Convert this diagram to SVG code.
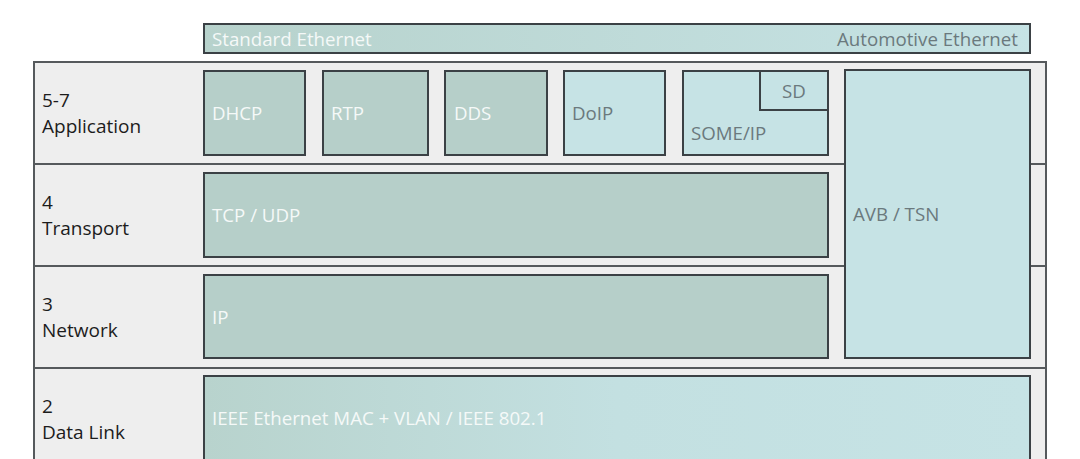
<svg xmlns="http://www.w3.org/2000/svg" width="1080" height="459" viewBox="0 0 1080 459">
<defs>
<linearGradient id="gBanner" x1="0" y1="0" x2="1" y2="0">
<stop offset="0" stop-color="#b7d2cc"/>
<stop offset="1" stop-color="#c6e3e5"/>
</linearGradient>
<linearGradient id="gLink" x1="0" y1="0" x2="1" y2="0">
<stop offset="0" stop-color="#b8d3cd"/>
<stop offset="0.5" stop-color="#c3e0e1"/>
<stop offset="1" stop-color="#c6e3e5"/>
</linearGradient>
</defs>
<style>
text{font-family:"Open Sans","Noto Sans","Liberation Sans",sans-serif;font-size:18.7px}
.box{stroke:#3b4145;stroke-width:2}
.dark{fill:#b6cfc9}
.light{fill:#c6e3e5}
.wt{fill:#f5f9f8}
.gt{fill:#6b797d}
.lbl{fill:#1c1c1c;font-size:19px}
.div{stroke:#55595c;stroke-width:2}
</style>
<rect width="1080" height="459" fill="#ffffff"/>
<g id="frame">
<rect x="34" y="62" width="1012" height="410" fill="#eeeeee" stroke="#55595c" stroke-width="2"/>
</g>
<g id="dividers">
<line class="div" x1="34" y1="164" x2="1046" y2="164"/>
<line class="div" x1="34" y1="266" x2="1046" y2="266"/>
<line class="div" x1="34" y1="368" x2="1046" y2="368"/>
</g>
<g id="banner">
<rect class="box" x="204" y="24" width="826" height="29" fill="url(#gBanner)"/>
<text class="wt" x="212" y="46">Standard Ethernet</text>
<text class="gt" x="1018" y="46" text-anchor="end">Automotive Ethernet</text>
</g>
<g id="layer-app">
<text class="lbl" x="42" y="107">5-7</text>
<text class="lbl" x="42" y="133">Application</text>
</g>
<g id="layer-transport">
<text class="lbl" x="42" y="209">4</text>
<text class="lbl" x="42" y="235">Transport</text>
</g>
<g id="layer-network">
<text class="lbl" x="42" y="311">3</text>
<text class="lbl" x="42" y="337">Network</text>
</g>
<g id="layer-datalink">
<text class="lbl" x="42" y="413">2</text>
<text class="lbl" x="42" y="439">Data Link</text>
</g>
<g id="dhcp">
<rect class="box dark" x="204" y="71" width="101" height="84"/>
<text class="wt" x="212" y="120">DHCP</text>
</g>
<g id="rtp">
<rect class="box dark" x="323" y="71" width="105" height="84"/>
<text class="wt" x="331" y="120">RTP</text>
</g>
<g id="dds">
<rect class="box dark" x="445" y="71" width="102" height="84"/>
<text class="wt" x="454" y="120">DDS</text>
</g>
<g id="doip">
<rect class="box light" x="564" y="71" width="101" height="84"/>
<text class="gt" x="572" y="120">DoIP</text>
</g>
<g id="someip">
<rect class="box light" x="683" y="71" width="145" height="84"/>
<text class="gt" x="691" y="140">SOME/IP</text>
</g>
<g id="sd">
<polyline points="760,71 760,110 828,110" fill="none" stroke="#3b4145" stroke-width="2"/>
<text class="gt" x="794" y="98" text-anchor="middle">SD</text>
</g>
<g id="avb">
<rect class="box light" x="845" y="70" width="185" height="288"/>
<text class="gt" x="853" y="221">AVB / TSN</text>
</g>
<g id="tcpudp">
<rect class="box dark" x="204" y="173" width="624" height="84"/>
<text class="wt" x="212" y="222">TCP / UDP</text>
</g>
<g id="ip">
<rect class="box dark" x="204" y="275" width="624" height="83"/>
<text class="wt" x="212" y="324">IP</text>
</g>
<g id="datalink">
<rect class="box" x="204" y="376" width="826" height="100" fill="url(#gLink)"/>
<text class="wt" x="212" y="425">IEEE Ethernet MAC + VLAN / IEEE 802.1</text>
</g>
<g id="connectors"></g>
</svg>
